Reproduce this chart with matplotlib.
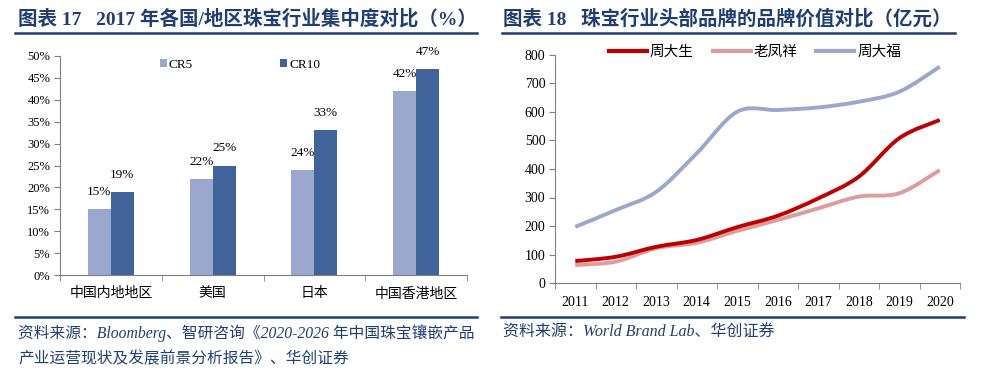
import matplotlib
matplotlib.use('Agg')
import matplotlib.pyplot as plt
from matplotlib.path import Path
from matplotlib.patches import PathPatch, Patch
from matplotlib.lines import Line2D

FAM = ['Liberation Serif', 'Noto Sans CJK SC']
plt.rcParams['font.family'] = FAM

# ---------------- data ----------------
regions = ['中国内地地区', '美国', '日本', '中国香港地区']
cr5 = [15, 22, 24, 42]
cr10 = [19, 25, 33, 47]

years = ['2011', '2012', '2013', '2014', '2015', '2016', '2017', '2018', '2019', '2020']
zds = [77, 92, 127, 151, 196, 236, 297, 373, 508, 572]      # 周大生
lfx = [63, 75, 122, 141, 183, 221, 262, 303, 315, 396]      # 老凤祥
zdf = [197, 256, 320, 455, 601, 607, 616, 636, 671, 759]    # 周大福
series_names = ['周大生', '老凤祥', '周大福']

TITLE_C = '#1F3F74'
C_CR5 = '#9BA8CD'
C_CR10 = '#41639B'
C_RED = '#C00000'
C_PINK = '#DE9C9C'
C_BLUE = '#99A8CC'
SPINE = '#808080'

W, H = 988, 376
fig = plt.figure(figsize=(W / 100, H / 100), dpi=100)


def fx(px):
    return px / W


def fy(py):
    return 1 - py / H


# ---------------- titles & rules ----------------
fig.text(fx(18), fy(19), '图表 17   2017 年各国/地区珠宝行业集中度对比（%）',
         fontsize=14, weight='bold', color=TITLE_C, va='center', ha='left')
fig.text(fx(503), fy(19), '图表 18   珠宝行业头部品牌的品牌价值对比（亿元）',
         fontsize=14, weight='bold', color=TITLE_C, va='center', ha='left')
for x0, x1 in [(15, 477), (502, 955)]:
    fig.add_artist(Line2D([fx(x0), fx(x1)], [fy(33), fy(33)], color=TITLE_C, lw=1.8))
for x0, x1 in [(15, 477), (501, 964)]:
    fig.add_artist(Line2D([fx(x0), fx(x1)], [fy(317), fy(317)], color=TITLE_C, lw=1.8))

fig.text(fx(18), fy(333), '资料来源：Bloomberg、智研咨询《2020-2026 年中国珠宝镶嵌产品',
         fontsize=11.3, style='italic', color=TITLE_C, va='center', ha='left')
fig.text(fx(18), fy(359), '产业运营现状及发展前景分析报告》、华创证券',
         fontsize=11.3, style='italic', color=TITLE_C, va='center', ha='left')
fig.text(fx(503), fy(333), '资料来源：World Brand Lab、华创证券',
         fontsize=11.5, style='italic', color=TITLE_C, va='center', ha='left')

# ---------------- left bar chart ----------------
ax1 = fig.add_axes([fx(60), fy(275), fx(467) - fx(60), fy(56) - fy(275)])
n = len(regions)
xs = list(range(n))
bw = 0.225
b1 = ax1.bar([x - bw / 2 for x in xs], cr5, width=bw, color=C_CR5, label='CR5')
b2 = ax1.bar([x + bw / 2 for x in xs], cr10, width=bw, color=C_CR10, label='CR10')
for bars, vals in [(b1, cr5), (b2, cr10)]:
    for b, v in zip(bars, vals):
        ax1.annotate(f'{v}%', (b.get_x() + b.get_width() / 2, v), xytext=(0, 8),
                     textcoords='offset points', ha='center', va='bottom', fontsize=9.5)
ax1.set_xlim(-0.5, n - 0.5)
ax1.set_ylim(0, 50)
ax1.set_yticks(range(0, 51, 5))
ax1.set_yticklabels([f'{v}%' for v in range(0, 51, 5)], fontsize=9)
ax1.set_xticks(xs)
ax1.set_xticklabels(regions, fontsize=10)
ax1.set_xticks([x - 0.5 for x in range(n + 1)], minor=True)
ax1.tick_params(axis='x', which='major', length=0, pad=9)
ax1.tick_params(axis='x', which='minor', length=4, color=SPINE, direction='out')
ax1.tick_params(axis='y', length=4, color=SPINE, direction='out', pad=3)
for s in ['top', 'right']:
    ax1.spines[s].set_visible(False)
for s in ['left', 'bottom']:
    ax1.spines[s].set_color(SPINE)
fig.legend(handles=[b1, b2], labels=['CR5', 'CR10'], loc='center',
           bbox_to_anchor=(fx(240), fy(65)), ncol=2, frameon=False, fontsize=9.5,
           handlelength=0.55, handleheight=0.55, handletextpad=0.15, columnspacing=6.6)

# ---------------- right line chart ----------------
ax2 = fig.add_axes([fx(555), fy(283), fx(960) - fx(555), fy(55) - fy(283)])
m = len(years)
xx = list(range(m))


def smooth_path(xv, yv):
    pts = list(zip(xv, yv))
    verts = [pts[0]]
    codes = [Path.MOVETO]
    for i in range(len(pts) - 1):
        p0 = pts[i - 1] if i > 0 else pts[i]
        p1 = pts[i]
        p2 = pts[i + 1]
        p3 = pts[i + 2] if i + 2 < len(pts) else pts[i + 1]
        c1 = (p1[0] + (p2[0] - p0[0]) / 6, p1[1] + (p2[1] - p0[1]) / 6)
        c2 = (p2[0] - (p3[0] - p1[0]) / 6, p2[1] - (p3[1] - p1[1]) / 6)
        verts += [c1, c2, p2]
        codes += [Path.CURVE4] * 3
    return Path(verts, codes)


for vals, col in [(zdf, C_BLUE), (lfx, C_PINK), (zds, C_RED)]:
    ax2.add_patch(PathPatch(smooth_path(xx, vals), facecolor='none', edgecolor=col,
                            lw=2.8, capstyle='butt', joinstyle='round'))
ax2.set_xlim(-0.5, m - 0.5)
ax2.set_ylim(0, 800)
ax2.set_yticks(range(0, 801, 100))
ax2.set_yticklabels([str(v) for v in range(0, 801, 100)], fontsize=10)
ax2.set_xticks(xx)
ax2.set_xticklabels(years, fontsize=10)
ax2.set_xticks([x - 0.5 for x in range(m + 1)], minor=True)
ax2.tick_params(axis='x', which='major', length=0, pad=9)
ax2.tick_params(axis='x', which='minor', length=4, color=SPINE, direction='out')
ax2.tick_params(axis='y', length=4, color=SPINE, direction='out', pad=3)
for s in ['top', 'right']:
    ax2.spines[s].set_visible(False)
for s in ['left', 'bottom']:
    ax2.spines[s].set_color(SPINE)
handles = [Line2D([], [], color=C_RED, lw=3), Line2D([], [], color=C_PINK, lw=3),
           Line2D([], [], color=C_BLUE, lw=3)]
fig.legend(handles=handles, labels=series_names, loc='center',
           bbox_to_anchor=(fx(755), fy(52)), ncol=3, frameon=False, fontsize=10.5,
           handlelength=2.6, handletextpad=0.2, columnspacing=1.3)

fig.savefig('out.png', dpi=100, facecolor='white')
